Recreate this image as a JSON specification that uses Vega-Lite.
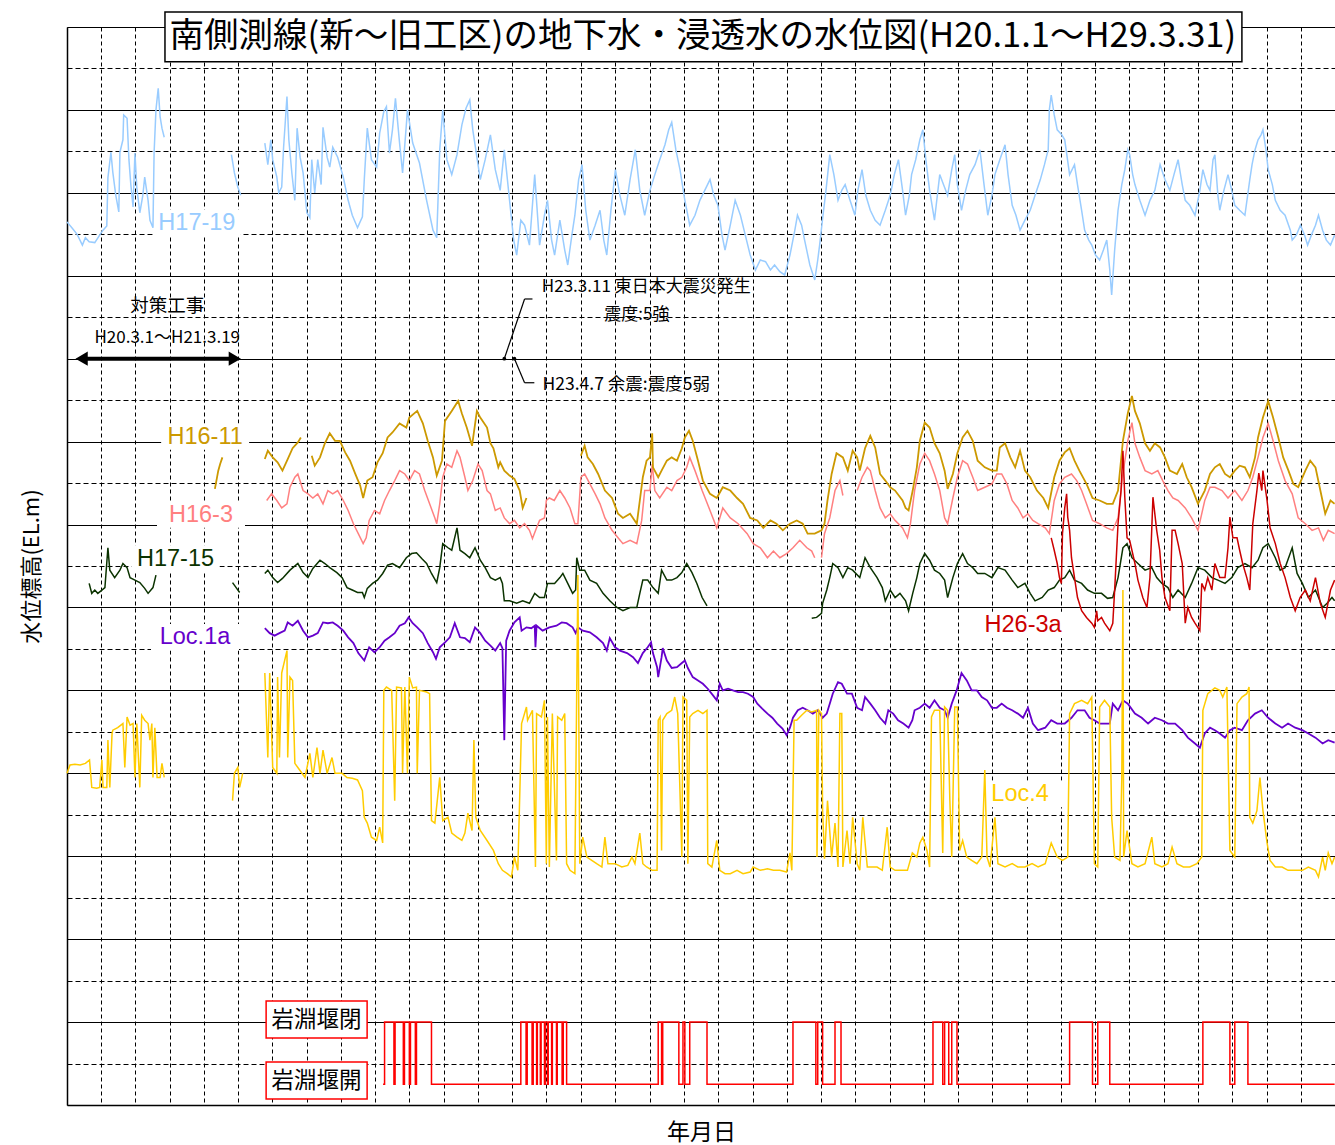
{
"$schema":"https://vega.github.io/schema/vega-lite/v6.json",
"width":1268,"height":1078,
"autosize":{"type":"none"},
"padding":{"left":67,"top":27,"right":0,"bottom":40},
"background":"white",
"config":{"view":{"stroke":null},"font":"Noto Sans CJK JP","axis":{"labels":false,"ticks":false,"domainColor":"#000","domainWidth":1.5,"gridColor":"#000","gridWidth":1,"gridOpacity":1,"titleFont":"Noto Sans CJK JP","titleFontWeight":"normal","titleColor":"#000"}},
"datasets":{
"labels":[{"s":"H17-19","d":"2008-12-12","v":10.64},{"s":"H16-11","d":"2009-01-03","v":8.06},{"s":"H16-3","d":"2008-12-23","v":7.12},{"s":"H17-15","d":"2008-10-16","v":6.59},{"s":"Loc.1a","d":"2008-12-07","v":5.64},{"s":"Loc.4","d":"2014-12-14","v":3.75},{"s":"H26-3a","d":"2014-12-22","v":5.79}],
"gatelabels":[{"t":"岩淵堰閉","d":"2009-10-27","v":1.03},{"t":"岩淵堰開","d":"2009-10-27","v":0.295}],
"h1719":[{"d":"2008-01-01","v":10.65},{"d":"2008-01-14","v":10.58},{"d":"2008-01-28","v":10.5},{"d":"2008-02-11","v":10.37},{"d":"2008-02-19","v":10.46},{"d":"2008-02-29","v":10.41},{"d":"2008-03-15","v":10.4},{"d":"2008-03-28","v":10.49},{"d":"2008-04-06","v":10.55},{"d":"2008-04-16","v":10.6},{"d":"2008-04-19","v":11.18},{"d":"2008-04-27","v":11.49},{"d":"2008-05-02","v":11.25},{"d":"2008-05-10","v":10.97},{"d":"2008-05-18","v":10.77},{"d":"2008-05-21","v":11.49},{"d":"2008-05-29","v":11.64},{"d":"2008-05-31","v":11.94},{"d":"2008-06-09","v":11.9},{"d":"2008-06-14","v":11.4},{"d":"2008-06-19","v":11.1},{"d":"2008-06-25","v":10.83},{"d":"2008-06-30","v":11.48},{"d":"2008-07-05","v":11.06},{"d":"2008-07-13","v":10.76},{"d":"2008-07-21","v":10.97},{"d":"2008-07-26","v":11.19},{"d":"2008-08-04","v":10.91},{"d":"2008-08-09","v":10.67},{"d":"2008-08-17","v":10.58},{"d":"2008-08-20","v":11.48},{"d":"2008-08-25","v":12.0},{"d":"2008-08-31","v":12.26},{"d":"2008-09-05","v":11.92},{"d":"2008-09-10","v":11.78},{"d":"2008-09-16","v":11.67},{"d":"2008-12-01","v":null},{"d":"2009-03-14","v":11.46},{"d":"2009-03-22","v":11.24},{"d":"2009-03-31","v":11.07},{"d":"2009-04-08","v":10.97},{"d":"2009-05-15","v":null},
{"d":"2009-06-11","v":11.6},{"d":"2009-06-19","v":11.34},{"d":"2009-06-27","v":11.64},{"d":"2009-07-02","v":11.4},{"d":"2009-07-13","v":11.19},{"d":"2009-07-18","v":11.0},{"d":"2009-07-26","v":11.07},{"d":"2009-07-31","v":11.55},{"d":"2009-08-09","v":12.16},{"d":"2009-08-14","v":11.64},{"d":"2009-08-22","v":11.24},{"d":"2009-08-30","v":10.91},{"d":"2009-09-05","v":11.78},{"d":"2009-09-13","v":11.43},{"d":"2009-09-21","v":11.24},{"d":"2009-10-01","v":10.76},{"d":"2009-10-09","v":10.7},{"d":"2009-10-14","v":11.4},{"d":"2009-10-22","v":11.0},{"d":"2009-10-30","v":11.4},{"d":"2009-11-08","v":11.1},{"d":"2009-11-13","v":11.79},{"d":"2009-11-24","v":11.43},{"d":"2009-12-01","v":11.31},{"d":"2009-12-09","v":11.55},{"d":"2009-12-22","v":11.43},
{"d":"2010-01-06","v":11.19},{"d":"2010-01-19","v":10.91},{"d":"2010-01-30","v":10.73},{"d":"2010-02-13","v":10.58},{"d":"2010-02-26","v":10.71},{"d":"2010-03-03","v":11.16},{"d":"2010-03-11","v":11.78},{"d":"2010-03-22","v":11.4},{"d":"2010-04-05","v":11.31},{"d":"2010-04-13","v":11.72},{"d":"2010-04-24","v":11.98},{"d":"2010-05-01","v":12.04},{"d":"2010-05-09","v":11.48},{"d":"2010-05-17","v":11.76},{"d":"2010-05-25","v":12.14},{"d":"2010-06-05","v":11.6},{"d":"2010-06-13","v":11.24},{"d":"2010-06-21","v":11.7},{"d":"2010-06-26","v":12.0},{"d":"2010-07-10","v":11.6},{"d":"2010-07-28","v":11.36},{"d":"2010-08-16","v":10.91},{"d":"2010-09-02","v":10.55},{"d":"2010-09-12","v":10.46},{"d":"2010-09-20","v":11.52},{"d":"2010-09-28","v":12.0},{"d":"2010-10-09","v":11.4},{"d":"2010-10-22","v":11.22},{"d":"2010-11-05","v":11.46},{"d":"2010-11-18","v":11.82},{"d":"2010-11-29","v":12.02},{"d":"2010-12-09","v":12.12},{"d":"2010-12-17","v":11.76},{"d":"2010-12-25","v":11.52},
{"d":"2011-01-06","v":11.16},{"d":"2011-01-19","v":11.4},{"d":"2011-02-02","v":11.7},{"d":"2011-02-15","v":11.28},{"d":"2011-02-28","v":11.03},{"d":"2011-03-11","v":11.52},{"d":"2011-03-25","v":10.91},{"d":"2011-04-05","v":10.43},{"d":"2011-04-13","v":10.25},{"d":"2011-04-24","v":10.67},{"d":"2011-05-04","v":10.61},{"d":"2011-05-17","v":10.37},{"d":"2011-05-31","v":11.22},{"d":"2011-06-13","v":10.37},{"d":"2011-06-26","v":10.73},{"d":"2011-07-04","v":10.91},{"d":"2011-07-15","v":10.43},{"d":"2011-07-23","v":10.25},{"d":"2011-08-06","v":10.67},{"d":"2011-08-19","v":10.31},{"d":"2011-08-27","v":10.13},{"d":"2011-09-07","v":10.49},{"d":"2011-09-15","v":10.73},{"d":"2011-09-25","v":11.16},{"d":"2011-10-04","v":11.34},{"d":"2011-10-14","v":10.79},{"d":"2011-10-25","v":10.43},{"d":"2011-11-08","v":10.61},{"d":"2011-11-21","v":10.79},{"d":"2011-12-01","v":10.43},{"d":"2011-12-09","v":10.25},{"d":"2011-12-20","v":10.79},
{"d":"2012-01-01","v":11.28},{"d":"2012-01-13","v":10.97},{"d":"2012-01-26","v":10.73},{"d":"2012-02-09","v":11.16},{"d":"2012-02-23","v":11.52},{"d":"2012-03-06","v":11.03},{"d":"2012-03-19","v":10.73},{"d":"2012-04-02","v":11.03},{"d":"2012-04-15","v":11.22},{"d":"2012-04-28","v":11.4},{"d":"2012-05-12","v":11.58},{"d":"2012-05-22","v":11.76},{"d":"2012-05-30","v":11.85},{"d":"2012-06-10","v":11.52},{"d":"2012-06-21","v":11.28},{"d":"2012-07-04","v":10.91},{"d":"2012-07-17","v":10.61},{"d":"2012-07-31","v":10.73},{"d":"2012-08-13","v":10.91},{"d":"2012-08-26","v":11.03},{"d":"2012-09-09","v":11.16},{"d":"2012-09-19","v":10.97},{"d":"2012-09-30","v":10.85},{"d":"2012-10-11","v":10.49},{"d":"2012-10-19","v":10.31},{"d":"2012-11-02","v":10.61},{"d":"2012-11-15","v":10.91},{"d":"2012-11-29","v":10.73},{"d":"2012-12-12","v":10.49},{"d":"2012-12-25","v":10.25},
{"d":"2013-01-08","v":10.07},{"d":"2013-01-21","v":10.19},{"d":"2013-02-04","v":10.17},{"d":"2013-02-17","v":10.07},{"d":"2013-02-28","v":10.13},{"d":"2013-03-14","v":10.05},{"d":"2013-03-27","v":10.01},{"d":"2013-04-10","v":10.25},{"d":"2013-04-23","v":10.55},{"d":"2013-04-30","v":10.73},{"d":"2013-05-11","v":10.61},{"d":"2013-05-19","v":10.43},{"d":"2013-06-02","v":10.13},{"d":"2013-06-15","v":9.95},{"d":"2013-06-23","v":10.19},{"d":"2013-06-28","v":10.37},{"d":"2013-07-07","v":10.73},{"d":"2013-07-15","v":11.03},{"d":"2013-07-25","v":11.46},{"d":"2013-08-05","v":11.22},{"d":"2013-08-16","v":10.91},{"d":"2013-08-26","v":11.03},{"d":"2013-09-04","v":11.1},{"d":"2013-09-17","v":10.91},{"d":"2013-09-30","v":10.73},{"d":"2013-10-08","v":11.03},{"d":"2013-10-19","v":11.28},{"d":"2013-10-29","v":10.97},{"d":"2013-11-10","v":10.79},{"d":"2013-11-23","v":10.67},{"d":"2013-12-06","v":10.61},{"d":"2013-12-20","v":10.79},
{"d":"2014-01-02","v":10.97},{"d":"2014-01-13","v":11.22},{"d":"2014-01-24","v":11.4},{"d":"2014-02-04","v":11.03},{"d":"2014-02-12","v":10.73},{"d":"2014-02-22","v":10.97},{"d":"2014-02-28","v":11.22},{"d":"2014-03-11","v":11.4},{"d":"2014-03-22","v":11.64},{"d":"2014-03-30","v":11.76},{"d":"2014-04-07","v":11.4},{"d":"2014-04-17","v":11.03},{"d":"2014-04-30","v":10.67},{"d":"2014-05-14","v":11.22},{"d":"2014-05-24","v":11.1},{"d":"2014-06-04","v":10.97},{"d":"2014-06-15","v":11.28},{"d":"2014-06-23","v":11.46},{"d":"2014-06-30","v":11.1},{"d":"2014-07-11","v":10.79},{"d":"2014-07-22","v":11.03},{"d":"2014-08-02","v":11.22},{"d":"2014-08-16","v":11.34},{"d":"2014-08-29","v":11.52},{"d":"2014-09-09","v":11.1},{"d":"2014-09-19","v":10.73},{"d":"2014-09-30","v":10.97},{"d":"2014-10-08","v":11.22},{"d":"2014-10-21","v":11.4},{"d":"2014-11-04","v":11.58},{"d":"2014-11-12","v":11.22},{"d":"2014-11-23","v":10.85},{"d":"2014-12-03","v":10.73},{"d":"2014-12-14","v":10.55},{"d":"2014-12-27","v":10.67},
{"d":"2015-01-10","v":10.79},{"d":"2015-01-23","v":10.97},{"d":"2015-02-06","v":11.16},{"d":"2015-02-17","v":11.34},{"d":"2015-02-27","v":11.52},{"d":"2015-03-02","v":12.0},{"d":"2015-03-07","v":12.18},{"d":"2015-03-15","v":11.94},{"d":"2015-03-23","v":11.76},{"d":"2015-04-04","v":11.7},{"d":"2015-04-12","v":11.64},{"d":"2015-04-25","v":11.22},{"d":"2015-05-08","v":11.34},{"d":"2015-05-16","v":11.1},{"d":"2015-05-27","v":10.79},{"d":"2015-06-04","v":10.55},{"d":"2015-06-15","v":10.43},{"d":"2015-06-23","v":10.37},{"d":"2015-07-03","v":10.25},{"d":"2015-07-14","v":10.19},{"d":"2015-07-24","v":10.31},{"d":"2015-08-02","v":10.43},{"d":"2015-08-10","v":10.07},{"d":"2015-08-15","v":9.77},{"d":"2015-08-23","v":10.31},{"d":"2015-09-01","v":10.79},{"d":"2015-09-11","v":11.1},{"d":"2015-09-19","v":11.28},{"d":"2015-09-27","v":11.52},{"d":"2015-10-02","v":11.46},{"d":"2015-10-10","v":11.22},{"d":"2015-10-16","v":11.1},{"d":"2015-10-29","v":10.91},{"d":"2015-11-12","v":10.73},{"d":"2015-11-25","v":10.91},{"d":"2015-12-08","v":11.03},{"d":"2015-12-22","v":11.34},
{"d":"2016-01-04","v":11.16},{"d":"2016-01-17","v":11.03},{"d":"2016-01-28","v":11.22},{"d":"2016-02-08","v":11.4},{"d":"2016-02-19","v":11.1},{"d":"2016-02-27","v":10.91},{"d":"2016-03-10","v":10.85},{"d":"2016-03-24","v":10.73},{"d":"2016-04-06","v":11.03},{"d":"2016-04-14","v":11.28},{"d":"2016-04-25","v":11.1},{"d":"2016-05-03","v":11.03},{"d":"2016-05-11","v":11.4},{"d":"2016-05-16","v":11.46},{"d":"2016-05-24","v":10.97},{"d":"2016-05-29","v":10.79},{"d":"2016-06-09","v":11.03},{"d":"2016-06-20","v":11.22},{"d":"2016-06-30","v":11.03},{"d":"2016-07-08","v":10.85},{"d":"2016-07-21","v":10.79},{"d":"2016-08-04","v":10.73},{"d":"2016-08-17","v":11.16},{"d":"2016-08-23","v":11.34},{"d":"2016-08-31","v":11.52},{"d":"2016-09-08","v":11.64},{"d":"2016-09-16","v":11.7},{"d":"2016-09-21","v":11.76},{"d":"2016-09-29","v":11.52},{"d":"2016-10-05","v":11.28},{"d":"2016-10-16","v":11.1},{"d":"2016-10-24","v":10.91},{"d":"2016-11-06","v":10.79},{"d":"2016-11-19","v":10.73},{"d":"2016-12-03","v":10.55},{"d":"2016-12-08","v":10.43},{"d":"2016-12-19","v":10.49},{"d":"2016-12-30","v":10.61},{"d":"2017-01-10","v":10.49},{"d":"2017-01-18","v":10.37},{"d":"2017-01-28","v":10.49},{"d":"2017-02-08","v":10.61},{"d":"2017-02-16","v":10.73},{"d":"2017-02-27","v":10.55},{"d":"2017-03-09","v":10.43},{"d":"2017-03-20","v":10.37},{"d":"2017-03-31","v":10.49}],
"h1611":[{"d":"2009-01-29","v":7.43},{"d":"2009-02-07","v":7.65},{"d":"2009-02-12","v":7.73},{"d":"2009-02-18","v":7.81},{"d":"2009-04-01","v":null},{"d":"2009-06-11","v":7.79},{"d":"2009-06-19","v":7.89},{"d":"2009-07-02","v":7.81},{"d":"2009-07-15","v":7.75},{"d":"2009-07-28","v":7.65},{"d":"2009-08-11","v":7.79},{"d":"2009-08-24","v":7.92},{"d":"2009-09-07","v":7.99},{"d":"2009-09-15","v":8.05},{"d":"2009-09-25","v":null},{"d":"2009-10-14","v":7.83},{"d":"2009-10-22","v":7.71},{"d":"2009-11-05","v":7.81},{"d":"2009-11-18","v":7.98},{"d":"2009-12-01","v":8.1},{"d":"2009-12-15","v":8.01},{"d":"2009-12-28","v":8.01},{"d":"2010-01-11","v":7.87},{"d":"2010-01-24","v":7.77},{"d":"2010-02-07","v":7.61},{"d":"2010-02-20","v":7.47},{"d":"2010-02-28","v":7.32},{"d":"2010-03-11","v":7.53},{"d":"2010-03-25","v":7.57},{"d":"2010-04-07","v":7.75},{"d":"2010-04-21","v":7.86},{"d":"2010-05-04","v":8.05},{"d":"2010-05-17","v":8.11},{"d":"2010-06-05","v":8.22},{"d":"2010-06-23","v":8.17},{"d":"2010-07-01","v":8.29},{"d":"2010-07-22","v":8.37},{"d":"2010-08-06","v":8.22},{"d":"2010-08-19","v":8.01},{"d":"2010-09-02","v":7.81},{"d":"2010-09-12","v":7.59},{"d":"2010-09-26","v":7.77},{"d":"2010-10-04","v":8.25},{"d":"2010-10-22","v":8.37},{"d":"2010-11-08","v":8.49},{"d":"2010-11-18","v":8.34},{"d":"2010-12-01","v":8.17},{"d":"2010-12-15","v":7.95},{"d":"2010-12-28","v":8.37},{"d":"2011-01-06","v":8.29},{"d":"2011-01-24","v":8.17},{"d":"2011-02-02","v":7.98},{"d":"2011-02-10","v":7.92},{"d":"2011-02-23","v":7.69},{"d":"2011-02-28","v":7.75},{"d":"2011-03-11","v":7.65},{"d":"2011-03-25","v":7.59},{"d":"2011-04-07","v":7.55},{"d":"2011-04-21","v":7.41},{"d":"2011-04-29","v":7.2},{"d":"2011-05-09","v":7.32},{"d":"2011-06-15","v":null},{"d":"2011-10-01","v":7.83},{"d":"2011-10-11","v":7.95},{"d":"2011-10-19","v":7.81},{"d":"2011-11-02","v":7.73},{"d":"2011-11-16","v":7.61},{"d":"2011-12-04","v":7.41},{"d":"2011-12-23","v":7.32},{"d":"2012-01-08","v":7.13},{"d":"2012-01-21","v":7.08},{"d":"2012-02-09","v":7.13},{"d":"2012-02-27","v":7.01},{"d":"2012-03-06","v":7.29},{"d":"2012-03-14","v":7.57},{"d":"2012-03-24","v":7.77},{"d":"2012-04-02","v":7.81},{"d":"2012-04-08","v":8.1},{"d":"2012-04-10","v":7.69},{"d":"2012-04-24","v":7.57},{"d":"2012-05-03","v":7.65},{"d":"2012-05-17","v":7.77},{"d":"2012-05-30","v":7.81},{"d":"2012-06-13","v":7.77},{"d":"2012-06-26","v":7.92},{"d":"2012-07-04","v":8.05},{"d":"2012-07-15","v":8.13},{"d":"2012-07-25","v":8.01},{"d":"2012-08-08","v":7.77},{"d":"2012-08-21","v":7.53},{"d":"2012-09-09","v":7.37},{"d":"2012-09-27","v":7.32},{"d":"2012-10-13","v":7.45},{"d":"2012-11-02","v":7.41},{"d":"2012-11-20","v":7.32},{"d":"2012-12-06","v":7.25},{"d":"2012-12-25","v":7.08},{"d":"2013-01-13","v":7.05},{"d":"2013-01-29","v":6.96},{"d":"2013-02-17","v":7.05},{"d":"2013-03-05","v":7.01},{"d":"2013-03-22","v":6.93},{"d":"2013-04-10","v":7.01},{"d":"2013-04-28","v":7.05},{"d":"2013-05-14","v":7.01},{"d":"2013-05-27","v":6.89},{"d":"2013-06-15","v":6.89},{"d":"2013-07-03","v":6.93},{"d":"2013-07-11","v":7.01},{"d":"2013-07-19","v":7.29},{"d":"2013-07-30","v":7.61},{"d":"2013-08-12","v":7.86},{"d":"2013-08-29","v":7.81},{"d":"2013-09-11","v":7.65},{"d":"2013-09-24","v":7.89},{"d":"2013-10-06","v":7.81},{"d":"2013-10-13","v":7.65},{"d":"2013-10-27","v":7.92},{"d":"2013-11-10","v":8.07},{"d":"2013-11-23","v":7.93},{"d":"2013-12-06","v":7.61},{"d":"2013-12-20","v":7.53},{"d":"2014-01-02","v":7.45},{"d":"2014-01-15","v":7.41},{"d":"2014-02-04","v":7.29},{"d":"2014-02-12","v":7.2},{"d":"2014-02-20","v":7.17},{"d":"2014-03-03","v":7.41},{"d":"2014-03-14","v":7.69},{"d":"2014-03-22","v":8.01},{"d":"2014-04-04","v":8.23},{"d":"2014-04-17","v":8.17},{"d":"2014-04-30","v":7.98},{"d":"2014-05-14","v":7.86},{"d":"2014-05-27","v":7.65},{"d":"2014-06-04","v":7.43},{"d":"2014-06-18","v":7.61},{"d":"2014-06-30","v":7.86},{"d":"2014-07-14","v":8.05},{"d":"2014-07-27","v":8.13},{"d":"2014-08-10","v":8.01},{"d":"2014-08-23","v":7.77},{"d":"2014-09-11","v":7.69},{"d":"2014-09-30","v":7.65},{"d":"2014-10-13","v":7.65},{"d":"2014-10-21","v":7.93},{"d":"2014-11-04","v":7.98},{"d":"2014-11-18","v":7.81},{"d":"2014-12-01","v":7.69},{"d":"2014-12-14","v":7.89},{"d":"2014-12-27","v":7.65},{"d":"2015-01-10","v":7.57},{"d":"2015-01-28","v":7.41},{"d":"2015-02-14","v":7.32},{"d":"2015-02-27","v":7.2},{"d":"2015-03-15","v":7.57},{"d":"2015-03-29","v":7.77},{"d":"2015-04-12","v":7.87},{"d":"2015-04-25","v":7.92},{"d":"2015-05-08","v":7.77},{"d":"2015-05-21","v":7.65},{"d":"2015-06-09","v":7.49},{"d":"2015-06-25","v":7.32},{"d":"2015-07-14","v":7.29},{"d":"2015-08-02","v":7.25},{"d":"2015-08-18","v":7.25},{"d":"2015-09-01","v":7.41},{"d":"2015-09-14","v":8.01},{"d":"2015-09-27","v":8.34},{"d":"2015-10-08","v":8.55},{"d":"2015-10-16","v":8.37},{"d":"2015-10-29","v":8.22},{"d":"2015-11-12","v":7.98},{"d":"2015-11-25","v":7.89},{"d":"2015-12-08","v":7.98},{"d":"2015-12-22","v":7.93},{"d":"2016-01-04","v":7.81},{"d":"2016-01-17","v":7.65},{"d":"2016-02-05","v":7.61},{"d":"2016-02-19","v":7.73},{"d":"2016-03-02","v":7.57},{"d":"2016-03-15","v":7.45},{"d":"2016-04-01","v":7.25},{"d":"2016-04-19","v":7.41},{"d":"2016-05-03","v":7.61},{"d":"2016-05-16","v":7.69},{"d":"2016-05-29","v":7.73},{"d":"2016-06-12","v":7.61},{"d":"2016-06-25","v":7.57},{"d":"2016-07-08","v":7.65},{"d":"2016-07-21","v":7.71},{"d":"2016-08-04","v":7.69},{"d":"2016-08-17","v":7.57},{"d":"2016-08-31","v":7.81},{"d":"2016-09-08","v":8.05},{"d":"2016-09-21","v":8.29},{"d":"2016-10-05","v":8.49},{"d":"2016-10-18","v":8.29},{"d":"2016-11-01","v":8.05},{"d":"2016-11-14","v":7.81},{"d":"2016-11-28","v":7.65},{"d":"2016-12-11","v":7.49},{"d":"2016-12-24","v":7.45},{"d":"2017-01-12","v":7.65},{"d":"2017-01-25","v":7.77},{"d":"2017-02-08","v":7.69},{"d":"2017-02-21","v":7.41},{"d":"2017-03-06","v":7.13},{"d":"2017-03-20","v":7.29},{"d":"2017-03-31","v":7.25}],
"h163":[{"d":"2009-06-16","v":7.29},{"d":"2009-06-29","v":7.37},{"d":"2009-07-13","v":7.29},{"d":"2009-07-26","v":7.2},{"d":"2009-08-09","v":7.25},{"d":"2009-08-17","v":7.45},{"d":"2009-08-30","v":7.57},{"d":"2009-09-07","v":7.61},{"d":"2009-09-21","v":7.41},{"d":"2009-10-04","v":7.37},{"d":"2009-10-17","v":7.32},{"d":"2009-10-30","v":7.37},{"d":"2009-11-13","v":7.25},{"d":"2009-11-26","v":7.41},{"d":"2009-12-09","v":7.37},{"d":"2009-12-22","v":7.41},{"d":"2010-01-06","v":7.29},{"d":"2010-01-19","v":7.17},{"d":"2010-02-02","v":7.01},{"d":"2010-02-15","v":6.89},{"d":"2010-02-28","v":6.77},{"d":"2010-03-08","v":6.84},{"d":"2010-03-16","v":7.05},{"d":"2010-03-30","v":7.17},{"d":"2010-04-13","v":7.13},{"d":"2010-04-26","v":7.29},{"d":"2010-05-09","v":7.41},{"d":"2010-05-23","v":7.53},{"d":"2010-06-05","v":7.65},{"d":"2010-06-19","v":7.61},{"d":"2010-07-01","v":7.53},{"d":"2010-07-15","v":7.65},{"d":"2010-07-28","v":7.61},{"d":"2010-08-11","v":7.41},{"d":"2010-08-24","v":7.25},{"d":"2010-09-07","v":7.08},{"d":"2010-09-12","v":7.01},{"d":"2010-09-20","v":7.25},{"d":"2010-09-28","v":7.57},{"d":"2010-10-09","v":7.73},{"d":"2010-10-22","v":7.69},{"d":"2010-11-05","v":7.89},{"d":"2010-11-13","v":7.81},{"d":"2010-11-26","v":7.57},{"d":"2010-12-04","v":7.41},{"d":"2010-12-17","v":7.53},{"d":"2010-12-31","v":7.73},{"d":"2011-01-11","v":7.65},{"d":"2011-01-24","v":7.41},{"d":"2011-02-02","v":7.37},{"d":"2011-02-15","v":7.17},{"d":"2011-02-28","v":7.2},{"d":"2011-03-11","v":7.08},{"d":"2011-03-25","v":7.01},{"d":"2011-04-07","v":7.05},{"d":"2011-04-21","v":6.96},{"d":"2011-05-04","v":7.01},{"d":"2011-05-17","v":6.93},{"d":"2011-05-25","v":6.83},{"d":"2011-06-05","v":6.96},{"d":"2011-06-13","v":7.05},{"d":"2011-06-26","v":7.08},{"d":"2011-07-01","v":7.29},{"d":"2011-07-09","v":7.32},{"d":"2011-07-22","v":7.29},{"d":"2011-08-06","v":7.41},{"d":"2011-08-19","v":7.32},{"d":"2011-09-02","v":7.2},{"d":"2011-09-15","v":7.01},{"d":"2011-09-23","v":7.01},{"d":"2011-10-01","v":7.57},{"d":"2011-10-11","v":7.61},{"d":"2011-10-25","v":7.49},{"d":"2011-11-08","v":7.37},{"d":"2011-11-21","v":7.25},{"d":"2011-12-04","v":7.08},{"d":"2011-12-23","v":6.93},{"d":"2012-01-08","v":6.84},{"d":"2012-01-21","v":6.77},{"d":"2012-02-09","v":6.81},{"d":"2012-02-27","v":6.77},{"d":"2012-03-11","v":7.05},{"d":"2012-03-19","v":7.41},{"d":"2012-04-02","v":7.41},{"d":"2012-04-08","v":7.73},{"d":"2012-04-15","v":7.41},{"d":"2012-04-28","v":7.32},{"d":"2012-05-17","v":7.45},{"d":"2012-05-30","v":7.41},{"d":"2012-06-13","v":7.53},{"d":"2012-06-26","v":7.57},{"d":"2012-07-09","v":7.69},{"d":"2012-07-17","v":7.81},{"d":"2012-07-31","v":7.65},{"d":"2012-08-19","v":7.41},{"d":"2012-09-09","v":7.17},{"d":"2012-09-27","v":6.96},{"d":"2012-10-13","v":7.2},{"d":"2012-11-02","v":7.08},{"d":"2012-11-23","v":7.01},{"d":"2012-12-17","v":6.89},{"d":"2013-01-02","v":6.77},{"d":"2013-01-21","v":6.72},{"d":"2013-02-09","v":6.6},{"d":"2013-02-25","v":6.68},{"d":"2013-03-14","v":6.6},{"d":"2013-04-01","v":6.65},{"d":"2013-04-18","v":6.72},{"d":"2013-05-06","v":6.81},{"d":"2013-05-25","v":6.72},{"d":"2013-06-07","v":6.68},{"d":"2013-06-15","v":6.6},{"d":"2013-06-25","v":null},{"d":"2013-07-03","v":6.6},{"d":"2013-07-11","v":6.89},{"d":"2013-07-25","v":7.08},{"d":"2013-08-08","v":7.41},{"d":"2013-08-21","v":7.53},{"d":"2013-08-29","v":7.35},{"d":"2013-09-08","v":null},{"d":"2013-10-06","v":7.41},{"d":"2013-10-19","v":7.57},{"d":"2013-11-02","v":7.69},{"d":"2013-11-10","v":7.65},{"d":"2013-11-23","v":7.41},{"d":"2013-12-06","v":7.2},{"d":"2013-12-20","v":7.08},{"d":"2014-01-02","v":7.13},{"d":"2014-01-15","v":7.05},{"d":"2014-02-04","v":6.96},{"d":"2014-02-17","v":6.84},{"d":"2014-02-25","v":7.01},{"d":"2014-03-08","v":7.41},{"d":"2014-03-22","v":7.73},{"d":"2014-04-04","v":7.86},{"d":"2014-04-17","v":7.77},{"d":"2014-04-30","v":7.61},{"d":"2014-05-14","v":7.41},{"d":"2014-05-27","v":7.08},{"d":"2014-06-04","v":7.01},{"d":"2014-06-18","v":7.32},{"d":"2014-06-30","v":7.57},{"d":"2014-07-14","v":7.77},{"d":"2014-07-27","v":7.73},{"d":"2014-08-10","v":7.57},{"d":"2014-08-23","v":7.41},{"d":"2014-09-11","v":7.45},{"d":"2014-09-30","v":7.49},{"d":"2014-10-13","v":7.61},{"d":"2014-10-26","v":7.61},{"d":"2014-11-09","v":7.49},{"d":"2014-11-23","v":7.29},{"d":"2014-12-08","v":7.2},{"d":"2014-12-22","v":7.08},{"d":"2015-01-04","v":7.13},{"d":"2015-01-17","v":7.05},{"d":"2015-01-31","v":7.01},{"d":"2015-02-19","v":6.96},{"d":"2015-03-02","v":6.89},{"d":"2015-03-15","v":7.29},{"d":"2015-03-29","v":7.49},{"d":"2015-04-12","v":7.57},{"d":"2015-04-30","v":7.61},{"d":"2015-05-14","v":7.53},{"d":"2015-05-27","v":7.41},{"d":"2015-06-09","v":7.25},{"d":"2015-06-25","v":7.05},{"d":"2015-07-14","v":7.01},{"d":"2015-08-02","v":6.96},{"d":"2015-08-18","v":6.93},{"d":"2015-09-01","v":7.08},{"d":"2015-09-14","v":7.61},{"d":"2015-09-27","v":8.01},{"d":"2015-10-08","v":8.23},{"d":"2015-10-16","v":7.98},{"d":"2015-10-29","v":7.81},{"d":"2015-11-12","v":7.65},{"d":"2015-11-30","v":7.61},{"d":"2015-12-16","v":7.65},{"d":"2015-12-29","v":7.53},{"d":"2016-01-12","v":7.41},{"d":"2016-01-25","v":7.32},{"d":"2016-02-08","v":7.29},{"d":"2016-02-27","v":7.2},{"d":"2016-03-15","v":7.08},{"d":"2016-04-01","v":6.93},{"d":"2016-04-19","v":7.29},{"d":"2016-05-03","v":7.45},{"d":"2016-05-16","v":7.45},{"d":"2016-06-04","v":7.41},{"d":"2016-06-20","v":7.32},{"d":"2016-07-08","v":7.41},{"d":"2016-07-27","v":7.29},{"d":"2016-08-12","v":7.41},{"d":"2016-08-25","v":7.57},{"d":"2016-09-08","v":7.81},{"d":"2016-09-21","v":8.05},{"d":"2016-10-05","v":8.22},{"d":"2016-10-18","v":8.01},{"d":"2016-11-01","v":7.77},{"d":"2016-11-19","v":7.53},{"d":"2016-12-08","v":7.37},{"d":"2016-12-24","v":7.08},{"d":"2017-01-12","v":7.01},{"d":"2017-01-30","v":6.93},{"d":"2017-02-16","v":6.96},{"d":"2017-03-01","v":6.81},{"d":"2017-03-14","v":6.93},{"d":"2017-03-31","v":6.89}],
"h1715":[{"d":"2008-02-29","v":6.29},{"d":"2008-03-07","v":6.17},{"d":"2008-03-15","v":6.21},{"d":"2008-03-23","v":6.17},{"d":"2008-04-03","v":6.21},{"d":"2008-04-11","v":6.24},{"d":"2008-04-19","v":6.72},{"d":"2008-04-24","v":6.45},{"d":"2008-05-07","v":6.36},{"d":"2008-05-21","v":6.45},{"d":"2008-05-29","v":6.53},{"d":"2008-06-09","v":6.48},{"d":"2008-06-17","v":6.36},{"d":"2008-06-30","v":6.33},{"d":"2008-07-13","v":6.3},{"d":"2008-07-26","v":6.23},{"d":"2008-08-04","v":6.17},{"d":"2008-08-17","v":6.24},{"d":"2008-08-25","v":6.39},{"d":"2008-10-01","v":null},{"d":"2009-03-17","v":6.3},{"d":"2009-03-28","v":6.23},{"d":"2009-04-05","v":6.18},{"d":"2009-05-15","v":null},{"d":"2009-06-11","v":6.41},{"d":"2009-06-19","v":6.45},{"d":"2009-07-02","v":6.36},{"d":"2009-07-15","v":6.3},{"d":"2009-07-28","v":6.35},{"d":"2009-08-17","v":6.45},{"d":"2009-09-07","v":6.53},{"d":"2009-09-21","v":6.42},{"d":"2009-10-04","v":6.36},{"d":"2009-10-17","v":6.47},{"d":"2009-11-05","v":6.57},{"d":"2009-11-18","v":6.53},{"d":"2009-12-01","v":6.48},{"d":"2009-12-20","v":6.42},{"d":"2010-01-03","v":6.36},{"d":"2010-01-16","v":6.24},{"d":"2010-01-30","v":6.21},{"d":"2010-02-13","v":6.18},{"d":"2010-02-26","v":6.18},{"d":"2010-03-03","v":6.12},{"d":"2010-03-11","v":6.23},{"d":"2010-03-25","v":6.29},{"d":"2010-04-07","v":6.33},{"d":"2010-04-21","v":6.41},{"d":"2010-05-04","v":6.51},{"d":"2010-05-17","v":6.53},{"d":"2010-06-05","v":6.48},{"d":"2010-06-23","v":6.6},{"d":"2010-07-07","v":6.65},{"d":"2010-07-20","v":6.66},{"d":"2010-08-03","v":6.59},{"d":"2010-08-16","v":6.53},{"d":"2010-08-29","v":6.41},{"d":"2010-09-12","v":6.3},{"d":"2010-09-20","v":6.48},{"d":"2010-09-28","v":6.77},{"d":"2010-10-12","v":6.72},{"d":"2010-10-22","v":6.69},{"d":"2010-11-05","v":6.96},{"d":"2010-11-13","v":6.69},{"d":"2010-11-26","v":6.65},{"d":"2010-12-09","v":6.6},{"d":"2010-12-23","v":6.72},{"d":"2011-01-06","v":6.57},{"d":"2011-01-19","v":6.48},{"d":"2011-02-02","v":6.36},{"d":"2011-02-15","v":6.33},{"d":"2011-02-28","v":6.36},{"d":"2011-03-06","v":6.29},{"d":"2011-03-11","v":6.08},{"d":"2011-03-25","v":6.08},{"d":"2011-04-13","v":6.05},{"d":"2011-04-29","v":6.08},{"d":"2011-05-17","v":6.05},{"d":"2011-05-31","v":6.17},{"d":"2011-06-13","v":6.12},{"d":"2011-06-26","v":6.12},{"d":"2011-07-04","v":6.29},{"d":"2011-07-23","v":6.29},{"d":"2011-08-06","v":6.36},{"d":"2011-08-14","v":6.41},{"d":"2011-08-27","v":6.29},{"d":"2011-09-09","v":6.17},{"d":"2011-09-17","v":6.21},{"d":"2011-09-20","v":6.6},{"d":"2011-09-28","v":6.45},{"d":"2011-10-11","v":6.45},{"d":"2011-10-25","v":6.33},{"d":"2011-11-12","v":6.29},{"d":"2011-11-29","v":6.17},{"d":"2011-12-17","v":6.08},{"d":"2012-01-05","v":6.0},{"d":"2012-01-21","v":5.96},{"d":"2012-02-09","v":6.0},{"d":"2012-02-27","v":6.0},{"d":"2012-03-06","v":6.17},{"d":"2012-03-14","v":6.33},{"d":"2012-03-27","v":6.33},{"d":"2012-04-10","v":6.24},{"d":"2012-04-24","v":6.17},{"d":"2012-05-03","v":6.45},{"d":"2012-05-17","v":6.33},{"d":"2012-05-30","v":6.33},{"d":"2012-06-13","v":6.36},{"d":"2012-06-26","v":6.42},{"d":"2012-07-09","v":6.53},{"d":"2012-07-23","v":6.42},{"d":"2012-08-05","v":6.29},{"d":"2012-08-19","v":6.12},{"d":"2012-09-01","v":6.02},{"d":"2012-11-01","v":null},{"d":"2013-06-07","v":5.87},{"d":"2013-06-20","v":5.88},{"d":"2013-07-03","v":5.93},{"d":"2013-07-06","v":6.05},{"d":"2013-07-17","v":6.21},{"d":"2013-07-25","v":6.36},{"d":"2013-08-02","v":6.53},{"d":"2013-08-16","v":6.48},{"d":"2013-08-29","v":6.36},{"d":"2013-09-11","v":6.48},{"d":"2013-09-24","v":6.45},{"d":"2013-10-13","v":6.36},{"d":"2013-10-27","v":6.6},{"d":"2013-11-10","v":6.48},{"d":"2013-11-28","v":6.36},{"d":"2013-12-12","v":6.24},{"d":"2013-12-20","v":6.08},{"d":"2014-01-02","v":6.21},{"d":"2014-01-15","v":6.12},{"d":"2014-01-28","v":6.17},{"d":"2014-02-12","v":6.08},{"d":"2014-02-20","v":5.96},{"d":"2014-03-03","v":6.17},{"d":"2014-03-14","v":6.36},{"d":"2014-03-22","v":6.53},{"d":"2014-04-04","v":6.65},{"d":"2014-04-17","v":6.57},{"d":"2014-04-30","v":6.45},{"d":"2014-05-14","v":6.41},{"d":"2014-05-27","v":6.33},{"d":"2014-06-04","v":6.12},{"d":"2014-06-18","v":6.36},{"d":"2014-06-30","v":6.53},{"d":"2014-07-14","v":6.65},{"d":"2014-07-27","v":6.53},{"d":"2014-08-10","v":6.48},{"d":"2014-08-23","v":6.41},{"d":"2014-09-11","v":6.41},{"d":"2014-09-30","v":6.36},{"d":"2014-10-16","v":6.48},{"d":"2014-11-04","v":6.45},{"d":"2014-11-23","v":6.33},{"d":"2014-12-08","v":6.24},{"d":"2014-12-27","v":6.29},{"d":"2015-01-10","v":6.17},{"d":"2015-01-23","v":6.08},{"d":"2015-02-11","v":6.12},{"d":"2015-02-27","v":6.21},{"d":"2015-03-15","v":6.24},{"d":"2015-03-29","v":6.33},{"d":"2015-04-12","v":6.36},{"d":"2015-04-25","v":6.45},{"d":"2015-05-08","v":6.33},{"d":"2015-05-27","v":6.29},{"d":"2015-06-12","v":6.21},{"d":"2015-06-30","v":6.17},{"d":"2015-07-19","v":6.17},{"d":"2015-08-04","v":6.11},{"d":"2015-08-18","v":6.12},{"d":"2015-09-01","v":6.36},{"d":"2015-09-14","v":6.72},{"d":"2015-09-25","v":6.77},{"d":"2015-10-08","v":6.6},{"d":"2015-10-24","v":6.53},{"d":"2015-11-12","v":6.45},{"d":"2015-11-30","v":6.48},{"d":"2015-12-13","v":6.36},{"d":"2015-12-27","v":6.29},{"d":"2016-01-12","v":6.24},{"d":"2016-01-25","v":6.12},{"d":"2016-02-08","v":6.21},{"d":"2016-02-27","v":6.12},{"d":"2016-03-15","v":6.29},{"d":"2016-04-01","v":6.48},{"d":"2016-04-19","v":6.45},{"d":"2016-05-08","v":6.36},{"d":"2016-05-24","v":6.33},{"d":"2016-06-12","v":6.29},{"d":"2016-06-30","v":6.36},{"d":"2016-07-16","v":6.48},{"d":"2016-08-04","v":6.53},{"d":"2016-08-23","v":6.48},{"d":"2016-09-08","v":6.57},{"d":"2016-09-21","v":6.72},{"d":"2016-10-05","v":6.77},{"d":"2016-10-24","v":6.6},{"d":"2016-11-06","v":6.45},{"d":"2016-11-19","v":6.48},{"d":"2016-12-08","v":6.72},{"d":"2016-12-21","v":6.41},{"d":"2017-01-04","v":6.29},{"d":"2017-01-20","v":6.12},{"d":"2017-02-08","v":6.21},{"d":"2017-02-27","v":6.0},{"d":"2017-03-11","v":6.05},{"d":"2017-03-24","v":6.12},{"d":"2017-03-31","v":6.08}],
"h263a":[{"d":"2015-03-07","v":6.84},{"d":"2015-03-15","v":6.69},{"d":"2015-03-23","v":6.53},{"d":"2015-03-29","v":6.36},{"d":"2015-04-03","v":6.29},{"d":"2015-04-06","v":6.89},{"d":"2015-04-12","v":7.2},{"d":"2015-04-17","v":7.37},{"d":"2015-04-20","v":7.09},{"d":"2015-04-25","v":6.93},{"d":"2015-04-30","v":6.6},{"d":"2015-05-08","v":6.36},{"d":"2015-05-16","v":6.12},{"d":"2015-05-27","v":5.96},{"d":"2015-06-09","v":5.88},{"d":"2015-06-23","v":5.81},{"d":"2015-06-30","v":5.76},{"d":"2015-07-06","v":5.96},{"d":"2015-07-09","v":5.84},{"d":"2015-07-19","v":5.88},{"d":"2015-07-27","v":5.81},{"d":"2015-08-10","v":5.72},{"d":"2015-08-18","v":5.81},{"d":"2015-08-23","v":6.21},{"d":"2015-09-01","v":7.01},{"d":"2015-09-09","v":7.41},{"d":"2015-09-14","v":7.89},{"d":"2015-09-19","v":7.33},{"d":"2015-09-25","v":6.84},{"d":"2015-10-02","v":6.81},{"d":"2015-10-16","v":6.53},{"d":"2015-10-24","v":6.33},{"d":"2015-11-06","v":6.12},{"d":"2015-11-17","v":6.0},{"d":"2015-11-25","v":6.36},{"d":"2015-12-03","v":7.33},{"d":"2015-12-13","v":6.93},{"d":"2015-12-21","v":6.69},{"d":"2015-12-27","v":6.36},{"d":"2016-01-04","v":6.12},{"d":"2016-01-17","v":5.96},{"d":"2016-01-23","v":6.93},{"d":"2016-01-31","v":6.93},{"d":"2016-02-08","v":6.77},{"d":"2016-02-19","v":6.53},{"d":"2016-02-27","v":5.81},{"d":"2016-03-05","v":6.0},{"d":"2016-03-15","v":5.88},{"d":"2016-03-24","v":5.81},{"d":"2016-04-06","v":5.72},{"d":"2016-04-11","v":6.29},{"d":"2016-04-19","v":6.21},{"d":"2016-04-27","v":6.36},{"d":"2016-05-08","v":6.21},{"d":"2016-05-16","v":6.53},{"d":"2016-05-29","v":6.36},{"d":"2016-06-12","v":6.36},{"d":"2016-06-20","v":6.72},{"d":"2016-06-25","v":7.09},{"d":"2016-07-03","v":6.84},{"d":"2016-07-14","v":6.84},{"d":"2016-07-21","v":6.69},{"d":"2016-07-29","v":6.53},{"d":"2016-08-09","v":6.36},{"d":"2016-08-17","v":6.21},{"d":"2016-08-25","v":7.01},{"d":"2016-09-05","v":7.41},{"d":"2016-09-10","v":7.62},{"d":"2016-09-18","v":7.41},{"d":"2016-09-21","v":7.65},{"d":"2016-10-02","v":7.29},{"d":"2016-10-10","v":6.96},{"d":"2016-10-24","v":6.77},{"d":"2016-11-06","v":6.53},{"d":"2016-11-19","v":6.36},{"d":"2016-12-03","v":6.12},{"d":"2016-12-16","v":5.96},{"d":"2016-12-29","v":6.12},{"d":"2017-01-12","v":6.21},{"d":"2017-01-25","v":6.08},{"d":"2017-02-08","v":6.36},{"d":"2017-02-21","v":6.05},{"d":"2017-03-06","v":5.88},{"d":"2017-03-20","v":6.21},{"d":"2017-03-31","v":6.33}],
"loc1a":[{"d":"2009-06-11","v":5.75},{"d":"2009-06-24","v":5.69},{"d":"2009-07-07","v":5.66},{"d":"2009-07-20","v":5.69},{"d":"2009-08-03","v":5.72},{"d":"2009-08-11","v":5.82},{"d":"2009-08-24","v":5.78},{"d":"2009-09-07","v":5.84},{"d":"2009-09-21","v":5.72},{"d":"2009-10-04","v":5.64},{"d":"2009-10-17","v":5.66},{"d":"2009-10-30","v":5.69},{"d":"2009-11-13","v":5.82},{"d":"2009-11-26","v":5.81},{"d":"2009-12-09","v":5.82},{"d":"2009-12-22","v":5.78},{"d":"2010-01-06","v":5.72},{"d":"2010-01-19","v":5.64},{"d":"2010-02-02","v":5.57},{"d":"2010-02-15","v":5.45},{"d":"2010-03-03","v":5.36},{"d":"2010-03-16","v":5.52},{"d":"2010-03-30","v":5.46},{"d":"2010-04-13","v":5.52},{"d":"2010-04-26","v":5.6},{"d":"2010-05-09","v":5.64},{"d":"2010-05-23","v":5.69},{"d":"2010-06-05","v":5.78},{"d":"2010-06-19","v":5.81},{"d":"2010-06-29","v":5.88},{"d":"2010-07-10","v":5.81},{"d":"2010-07-22","v":5.76},{"d":"2010-08-06","v":5.69},{"d":"2010-08-19","v":5.57},{"d":"2010-09-02","v":5.46},{"d":"2010-09-10","v":5.38},{"d":"2010-09-20","v":5.52},{"d":"2010-10-04","v":5.58},{"d":"2010-10-17","v":5.64},{"d":"2010-10-30","v":5.81},{"d":"2010-11-13","v":5.64},{"d":"2010-11-26","v":5.63},{"d":"2010-12-09","v":5.58},{"d":"2010-12-23","v":5.76},{"d":"2011-01-06","v":5.69},{"d":"2011-01-19","v":5.6},{"d":"2011-02-02","v":5.54},{"d":"2011-02-15","v":5.48},{"d":"2011-02-28","v":5.57},{"d":"2011-03-06","v":5.51},{"d":"2011-03-11","v":4.4},{"d":"2011-03-16","v":5.6},{"d":"2011-03-25","v":5.72},{"d":"2011-04-07","v":5.82},{"d":"2011-04-21","v":5.88},{"d":"2011-04-26","v":5.72},{"d":"2011-05-09","v":5.76},{"d":"2011-05-22","v":5.75},{"d":"2011-05-31","v":5.78},{"d":"2011-06-02","v":5.52},{"d":"2011-06-05","v":5.78},{"d":"2011-06-21","v":5.72},{"d":"2011-07-09","v":5.76},{"d":"2011-07-28","v":5.78},{"d":"2011-08-11","v":5.82},{"d":"2011-08-24","v":5.81},{"d":"2011-09-09","v":5.76},{"d":"2011-09-17","v":5.69},{"d":"2011-09-23","v":5.76},{"d":"2011-10-06","v":5.72},{"d":"2011-10-25","v":5.7},{"d":"2011-11-12","v":5.64},{"d":"2011-11-29","v":5.57},{"d":"2011-12-09","v":5.48},{"d":"2011-12-17","v":5.63},{"d":"2011-12-31","v":5.52},{"d":"2012-01-13","v":5.48},{"d":"2012-02-01","v":5.45},{"d":"2012-02-17","v":5.4},{"d":"2012-03-01","v":5.33},{"d":"2012-03-14","v":5.45},{"d":"2012-03-27","v":5.52},{"d":"2012-04-05","v":5.58},{"d":"2012-04-10","v":5.45},{"d":"2012-04-21","v":5.28},{"d":"2012-04-24","v":5.16},{"d":"2012-05-03","v":5.4},{"d":"2012-05-06","v":5.51},{"d":"2012-05-17","v":5.36},{"d":"2012-05-30","v":5.27},{"d":"2012-06-13","v":5.28},{"d":"2012-06-26","v":5.33},{"d":"2012-07-04","v":5.36},{"d":"2012-07-12","v":5.27},{"d":"2012-07-25","v":5.16},{"d":"2012-08-08","v":5.12},{"d":"2012-08-21","v":5.08},{"d":"2012-09-03","v":5.02},{"d":"2012-09-17","v":4.94},{"d":"2012-09-27","v":4.88},{"d":"2012-10-05","v":5.08},{"d":"2012-10-13","v":5.0},{"d":"2012-10-27","v":5.02},{"d":"2012-11-09","v":5.0},{"d":"2012-11-23","v":4.98},{"d":"2012-12-06","v":4.98},{"d":"2012-12-19","v":4.96},{"d":"2013-01-02","v":4.92},{"d":"2013-01-13","v":4.84},{"d":"2013-01-26","v":4.78},{"d":"2013-02-09","v":4.72},{"d":"2013-02-22","v":4.67},{"d":"2013-03-07","v":4.6},{"d":"2013-03-21","v":4.54},{"d":"2013-04-01","v":4.46},{"d":"2013-04-10","v":4.55},{"d":"2013-04-18","v":4.67},{"d":"2013-05-01","v":4.76},{"d":"2013-05-14","v":4.79},{"d":"2013-05-27","v":4.76},{"d":"2013-06-10","v":4.72},{"d":"2013-06-23","v":4.76},{"d":"2013-07-06","v":4.67},{"d":"2013-07-17","v":4.72},{"d":"2013-07-25","v":4.84},{"d":"2013-08-02","v":4.96},{"d":"2013-08-16","v":5.1},{"d":"2013-08-26","v":5.08},{"d":"2013-09-09","v":4.96},{"d":"2013-09-22","v":4.96},{"d":"2013-10-06","v":4.79},{"d":"2013-10-19","v":4.76},{"d":"2013-10-27","v":4.92},{"d":"2013-11-10","v":4.84},{"d":"2013-11-23","v":4.76},{"d":"2013-12-06","v":4.67},{"d":"2013-12-20","v":4.6},{"d":"2013-12-28","v":4.76},{"d":"2014-01-10","v":4.72},{"d":"2014-01-23","v":4.64},{"d":"2014-02-06","v":4.6},{"d":"2014-02-20","v":4.55},{"d":"2014-03-02","v":4.64},{"d":"2014-03-08","v":4.76},{"d":"2014-03-22","v":4.79},{"d":"2014-04-04","v":4.84},{"d":"2014-04-17","v":4.79},{"d":"2014-04-30","v":4.88},{"d":"2014-05-14","v":4.79},{"d":"2014-05-27","v":4.76},{"d":"2014-06-04","v":4.67},{"d":"2014-06-15","v":4.84},{"d":"2014-06-28","v":5.0},{"d":"2014-07-11","v":5.21},{"d":"2014-07-25","v":5.12},{"d":"2014-08-07","v":5.0},{"d":"2014-08-21","v":5.0},{"d":"2014-09-03","v":4.92},{"d":"2014-09-17","v":4.88},{"d":"2014-09-30","v":4.79},{"d":"2014-10-13","v":4.79},{"d":"2014-10-26","v":4.84},{"d":"2014-11-09","v":4.79},{"d":"2014-11-23","v":4.76},{"d":"2014-12-08","v":4.72},{"d":"2014-12-22","v":4.67},{"d":"2015-01-04","v":4.79},{"d":"2015-01-17","v":4.6},{"d":"2015-01-31","v":4.52},{"d":"2015-02-19","v":4.55},{"d":"2015-03-07","v":4.64},{"d":"2015-03-23","v":4.6},{"d":"2015-04-12","v":4.6},{"d":"2015-04-30","v":4.67},{"d":"2015-05-16","v":4.76},{"d":"2015-06-04","v":4.76},{"d":"2015-06-17","v":4.67},{"d":"2015-06-30","v":4.64},{"d":"2015-07-14","v":4.6},{"d":"2015-07-27","v":4.6},{"d":"2015-08-10","v":4.6},{"d":"2015-08-18","v":4.84},{"d":"2015-09-01","v":4.76},{"d":"2015-09-14","v":4.88},{"d":"2015-09-27","v":4.84},{"d":"2015-10-16","v":4.72},{"d":"2015-11-03","v":4.67},{"d":"2015-11-20","v":4.6},{"d":"2015-12-08","v":4.67},{"d":"2015-12-27","v":4.64},{"d":"2016-01-12","v":4.6},{"d":"2016-01-31","v":4.6},{"d":"2016-02-19","v":4.52},{"d":"2016-03-05","v":4.43},{"d":"2016-03-24","v":4.36},{"d":"2016-04-06","v":4.31},{"d":"2016-04-19","v":4.48},{"d":"2016-05-03","v":4.55},{"d":"2016-05-16","v":4.52},{"d":"2016-05-29","v":4.48},{"d":"2016-06-12","v":4.43},{"d":"2016-06-25","v":4.52},{"d":"2016-07-08","v":4.55},{"d":"2016-07-27","v":4.52},{"d":"2016-08-12","v":4.64},{"d":"2016-08-31","v":4.72},{"d":"2016-09-18","v":4.76},{"d":"2016-10-05","v":4.67},{"d":"2016-10-24","v":4.6},{"d":"2016-11-11","v":4.55},{"d":"2016-11-27","v":4.6},{"d":"2016-12-16","v":4.55},{"d":"2017-01-04","v":4.52},{"d":"2017-01-20","v":4.48},{"d":"2017-02-08","v":4.43},{"d":"2017-02-27","v":4.36},{"d":"2017-03-14","v":4.4},{"d":"2017-03-31","v":4.37}],
"loc4":[{"d":"2008-01-01","v":4.0},{"d":"2008-01-09","v":4.1},{"d":"2008-01-22","v":4.11},{"d":"2008-02-05","v":4.1},{"d":"2008-02-19","v":4.12},{"d":"2008-03-01","v":4.16},{"d":"2008-03-07","v":3.83},{"d":"2008-03-20","v":3.82},{"d":"2008-03-28","v":3.83},{"d":"2008-04-03","v":4.16},{"d":"2008-04-06","v":3.83},{"d":"2008-04-16","v":3.83},{"d":"2008-04-19","v":4.4},{"d":"2008-04-24","v":3.83},{"d":"2008-04-30","v":4.48},{"d":"2008-05-02","v":4.52},{"d":"2008-05-15","v":4.55},{"d":"2008-05-29","v":4.6},{"d":"2008-06-03","v":4.07},{"d":"2008-06-09","v":4.68},{"d":"2008-06-17","v":4.58},{"d":"2008-06-25","v":4.6},{"d":"2008-06-30","v":3.95},{"d":"2008-07-05","v":4.6},{"d":"2008-07-13","v":3.83},{"d":"2008-07-18","v":4.7},{"d":"2008-07-26","v":4.64},{"d":"2008-08-04","v":4.6},{"d":"2008-08-09","v":4.4},{"d":"2008-08-14","v":4.6},{"d":"2008-08-17","v":3.95},{"d":"2008-08-22","v":4.55},{"d":"2008-08-28","v":3.95},{"d":"2008-09-05","v":3.95},{"d":"2008-09-10","v":4.12},{"d":"2008-09-16","v":3.95},{"d":"2008-12-01","v":null},{"d":"2009-03-17","v":3.67},{"d":"2009-03-22","v":4.0},{"d":"2009-03-31","v":4.07},{"d":"2009-04-05","v":3.83},{"d":"2009-04-13","v":4.0},{"d":"2009-05-15","v":null},{"d":"2009-06-11","v":5.21},{"d":"2009-06-19","v":4.19},{"d":"2009-06-24","v":5.21},{"d":"2009-07-02","v":4.07},{"d":"2009-07-13","v":4.0},{"d":"2009-07-15","v":5.16},{"d":"2009-07-20","v":4.19},{"d":"2009-07-26","v":5.21},{"d":"2009-08-09","v":5.48},{"d":"2009-08-11","v":4.19},{"d":"2009-08-17","v":5.16},{"d":"2009-08-24","v":5.12},{"d":"2009-08-30","v":4.12},{"d":"2009-09-07","v":4.07},{"d":"2009-09-18","v":4.0},{"d":"2009-09-26","v":3.95},{"d":"2009-10-09","v":4.24},{"d":"2009-10-17","v":3.95},{"d":"2009-10-28","v":4.31},{"d":"2009-11-05","v":4.0},{"d":"2009-11-13","v":4.28},{"d":"2009-11-24","v":4.0},{"d":"2009-12-07","v":4.19},{"d":"2009-12-15","v":4.0},{"d":"2010-01-03","v":4.0},{"d":"2010-01-16","v":3.95},{"d":"2010-01-30","v":3.94},{"d":"2010-02-13","v":3.92},{"d":"2010-02-26","v":3.79},{"d":"2010-03-03","v":3.47},{"d":"2010-03-11","v":3.4},{"d":"2010-03-22","v":3.23},{"d":"2010-04-05","v":3.19},{"d":"2010-04-13","v":3.35},{"d":"2010-04-21","v":3.16},{"d":"2010-04-24","v":5.0},{"d":"2010-05-01","v":5.04},{"d":"2010-05-15","v":5.0},{"d":"2010-05-23","v":3.67},{"d":"2010-05-28","v":5.04},{"d":"2010-06-10","v":5.03},{"d":"2010-06-13","v":4.0},{"d":"2010-06-19","v":5.04},{"d":"2010-06-26","v":4.0},{"d":"2010-07-01","v":5.16},{"d":"2010-07-10","v":5.03},{"d":"2010-07-20","v":5.04},{"d":"2010-07-22","v":4.0},{"d":"2010-07-28","v":5.0},{"d":"2010-08-16","v":4.98},{"d":"2010-08-24","v":4.96},{"d":"2010-08-29","v":3.43},{"d":"2010-09-07","v":3.4},{"d":"2010-09-20","v":3.95},{"d":"2010-09-28","v":3.43},{"d":"2010-10-12","v":3.47},{"d":"2010-10-22","v":3.28},{"d":"2010-11-05","v":3.23},{"d":"2010-11-18","v":3.19},{"d":"2010-11-26","v":3.28},{"d":"2010-12-04","v":3.52},{"d":"2010-12-15","v":3.31},{"d":"2010-12-20","v":4.4},{"d":"2010-12-25","v":3.47},{"d":"2011-01-06","v":3.31},{"d":"2011-01-24","v":3.19},{"d":"2011-02-10","v":3.07},{"d":"2011-02-23","v":2.91},{"d":"2011-03-06","v":2.83},{"d":"2011-03-19","v":2.79},{"d":"2011-03-30","v":2.75},{"d":"2011-04-07","v":2.99},{"d":"2011-04-16","v":2.83},{"d":"2011-04-26","v":4.6},{"d":"2011-05-09","v":4.8},{"d":"2011-05-12","v":4.64},{"d":"2011-05-25","v":4.76},{"d":"2011-06-02","v":2.87},{"d":"2011-06-05","v":4.72},{"d":"2011-06-18","v":4.68},{"d":"2011-06-26","v":4.88},{"d":"2011-07-01","v":2.91},{"d":"2011-07-04","v":4.68},{"d":"2011-07-09","v":2.87},{"d":"2011-07-17","v":4.72},{"d":"2011-07-28","v":2.95},{"d":"2011-07-31","v":4.68},{"d":"2011-08-11","v":4.64},{"d":"2011-08-19","v":4.72},{"d":"2011-08-24","v":2.91},{"d":"2011-09-02","v":2.83},{"d":"2011-09-15","v":2.79},{"d":"2011-09-23","v":6.39},{"d":"2011-09-28","v":2.91},{"d":"2011-10-06","v":3.23},{"d":"2011-10-17","v":2.99},{"d":"2011-10-30","v":2.95},{"d":"2011-11-12","v":2.91},{"d":"2011-11-26","v":2.87},{"d":"2011-12-04","v":3.23},{"d":"2011-12-12","v":2.91},{"d":"2011-12-31","v":2.91},{"d":"2012-01-18","v":2.87},{"d":"2012-02-03","v":2.89},{"d":"2012-02-14","v":2.99},{"d":"2012-02-22","v":2.91},{"d":"2012-03-06","v":3.28},{"d":"2012-03-14","v":2.91},{"d":"2012-03-24","v":2.87},{"d":"2012-04-08","v":2.83},{"d":"2012-04-21","v":2.83},{"d":"2012-04-24","v":4.64},{"d":"2012-04-29","v":4.68},{"d":"2012-05-03","v":3.07},{"d":"2012-05-06","v":4.64},{"d":"2012-05-17","v":4.72},{"d":"2012-05-30","v":4.76},{"d":"2012-06-07","v":4.92},{"d":"2012-06-15","v":4.72},{"d":"2012-06-26","v":2.99},{"d":"2012-06-29","v":4.92},{"d":"2012-07-09","v":4.88},{"d":"2012-07-12","v":2.91},{"d":"2012-07-17","v":4.68},{"d":"2012-07-25","v":4.72},{"d":"2012-08-08","v":4.76},{"d":"2012-08-21","v":4.72},{"d":"2012-09-01","v":4.76},{"d":"2012-09-03","v":2.91},{"d":"2012-09-14","v":2.87},{"d":"2012-09-27","v":3.19},{"d":"2012-10-05","v":2.83},{"d":"2012-10-19","v":2.79},{"d":"2012-11-02","v":2.79},{"d":"2012-11-20","v":2.83},{"d":"2012-12-06","v":2.79},{"d":"2012-12-25","v":2.81},{"d":"2013-01-02","v":2.87},{"d":"2013-01-21","v":2.83},{"d":"2013-02-09","v":2.85},{"d":"2013-02-25","v":2.83},{"d":"2013-03-14","v":2.83},{"d":"2013-04-01","v":2.81},{"d":"2013-04-10","v":3.04},{"d":"2013-04-15","v":2.83},{"d":"2013-04-21","v":4.64},{"d":"2013-04-28","v":4.64},{"d":"2013-05-11","v":4.7},{"d":"2013-05-25","v":4.76},{"d":"2013-06-07","v":4.74},{"d":"2013-06-20","v":4.76},{"d":"2013-06-21","v":2.99},{"d":"2013-06-26","v":4.76},{"d":"2013-07-03","v":4.72},{"d":"2013-07-06","v":3.55},{"d":"2013-07-11","v":2.97},{"d":"2013-07-19","v":3.67},{"d":"2013-07-30","v":2.99},{"d":"2013-08-08","v":3.4},{"d":"2013-08-16","v":2.87},{"d":"2013-08-21","v":4.72},{"d":"2013-08-26","v":4.72},{"d":"2013-08-29","v":2.87},{"d":"2013-09-09","v":3.31},{"d":"2013-09-17","v":2.91},{"d":"2013-09-24","v":3.47},{"d":"2013-10-06","v":2.91},{"d":"2013-10-13","v":2.83},{"d":"2013-10-21","v":3.47},{"d":"2013-11-02","v":2.87},{"d":"2013-11-15","v":2.87},{"d":"2013-11-28","v":2.87},{"d":"2013-12-12","v":2.83},{"d":"2013-12-25","v":3.35},{"d":"2014-01-02","v":2.87},{"d":"2014-01-15","v":2.83},{"d":"2014-01-28","v":2.83},{"d":"2014-02-17","v":2.83},{"d":"2014-03-02","v":3.04},{"d":"2014-03-14","v":2.99},{"d":"2014-03-22","v":3.16},{"d":"2014-03-30","v":3.23},{"d":"2014-04-10","v":3.07},{"d":"2014-04-17","v":2.87},{"d":"2014-04-22","v":4.68},{"d":"2014-04-30","v":4.76},{"d":"2014-05-14","v":4.76},{"d":"2014-05-22","v":3.04},{"d":"2014-05-27","v":4.8},{"d":"2014-06-04","v":4.76},{"d":"2014-06-10","v":3.67},{"d":"2014-06-15","v":2.99},{"d":"2014-06-23","v":4.8},{"d":"2014-06-30","v":4.8},{"d":"2014-07-06","v":3.07},{"d":"2014-07-14","v":3.19},{"d":"2014-07-25","v":2.99},{"d":"2014-08-07","v":2.95},{"d":"2014-08-21","v":2.91},{"d":"2014-09-03","v":2.99},{"d":"2014-09-11","v":4.04},{"d":"2014-09-17","v":2.99},{"d":"2014-09-25","v":2.87},{"d":"2014-10-08","v":3.47},{"d":"2014-10-16","v":2.91},{"d":"2014-11-04","v":2.87},{"d":"2014-11-23","v":2.91},{"d":"2014-12-08","v":2.87},{"d":"2014-12-27","v":2.87},{"d":"2015-01-15","v":2.91},{"d":"2015-01-31","v":2.87},{"d":"2015-02-19","v":2.91},{"d":"2015-03-07","v":3.16},{"d":"2015-03-23","v":2.99},{"d":"2015-04-06","v":2.95},{"d":"2015-04-20","v":2.99},{"d":"2015-04-25","v":4.72},{"d":"2015-05-08","v":4.84},{"d":"2015-05-27","v":4.88},{"d":"2015-06-12","v":4.84},{"d":"2015-06-23","v":4.92},{"d":"2015-06-30","v":2.91},{"d":"2015-07-09","v":2.87},{"d":"2015-07-14","v":4.8},{"d":"2015-07-27","v":4.88},{"d":"2015-08-10","v":4.8},{"d":"2015-08-15","v":3.47},{"d":"2015-08-23","v":2.99},{"d":"2015-09-06","v":2.95},{"d":"2015-09-11","v":3.95},{"d":"2015-09-14","v":6.21},{"d":"2015-09-16","v":2.99},{"d":"2015-09-25","v":3.31},{"d":"2015-10-08","v":2.91},{"d":"2015-10-24","v":2.87},{"d":"2015-11-12","v":2.91},{"d":"2015-11-30","v":3.23},{"d":"2015-12-08","v":2.91},{"d":"2015-12-27","v":2.87},{"d":"2016-01-12","v":2.91},{"d":"2016-01-23","v":3.11},{"d":"2016-02-05","v":2.91},{"d":"2016-02-22","v":2.87},{"d":"2016-03-10","v":2.87},{"d":"2016-03-29","v":2.91},{"d":"2016-04-11","v":2.99},{"d":"2016-04-14","v":4.76},{"d":"2016-04-27","v":4.96},{"d":"2016-05-16","v":5.03},{"d":"2016-05-29","v":5.0},{"d":"2016-06-06","v":4.92},{"d":"2016-06-17","v":5.04},{"d":"2016-06-25","v":3.07},{"d":"2016-07-08","v":2.99},{"d":"2016-07-14","v":4.84},{"d":"2016-07-27","v":4.92},{"d":"2016-08-09","v":4.96},{"d":"2016-08-15","v":5.04},{"d":"2016-08-17","v":3.47},{"d":"2016-08-25","v":3.4},{"d":"2016-09-05","v":3.55},{"d":"2016-09-13","v":3.95},{"d":"2016-09-21","v":3.55},{"d":"2016-10-02","v":3.16},{"d":"2016-10-10","v":2.95},{"d":"2016-10-24","v":2.87},{"d":"2016-11-11","v":2.87},{"d":"2016-11-27","v":2.83},{"d":"2016-12-16","v":2.83},{"d":"2017-01-04","v":2.83},{"d":"2017-01-20","v":2.87},{"d":"2017-02-08","v":2.83},{"d":"2017-02-16","v":2.75},{"d":"2017-02-27","v":2.99},{"d":"2017-03-06","v":2.83},{"d":"2017-03-14","v":3.04},{"d":"2017-03-24","v":2.91},{"d":"2017-03-31","v":2.99}],
"gate":[{"d":"2010-04-22","v":0.25},{"d":"2010-04-26","v":1},{"d":"2010-05-21","v":0.25},{"d":"2010-05-24","v":1},{"d":"2010-06-15","v":0.25},{"d":"2010-06-18","v":1},{"d":"2010-07-01","v":0.25},{"d":"2010-07-04","v":1},{"d":"2010-07-17","v":0.25},{"d":"2010-07-20","v":1},{"d":"2010-08-29","v":0.25},{"d":"2011-04-24","v":1},{"d":"2011-05-08","v":0.25},{"d":"2011-05-11","v":1},{"d":"2011-05-24","v":0.25},{"d":"2011-05-27","v":1},{"d":"2011-06-05","v":0.25},{"d":"2011-06-07","v":1},{"d":"2011-06-15","v":0.25},{"d":"2011-06-17","v":1},{"d":"2011-06-26","v":0.25},{"d":"2011-06-28","v":1},{"d":"2011-07-04","v":0.25},{"d":"2011-07-06","v":1},{"d":"2011-07-15","v":0.25},{"d":"2011-07-17","v":1},{"d":"2011-07-28","v":0.25},{"d":"2011-07-30","v":1},{"d":"2011-08-12","v":0.25},{"d":"2011-08-15","v":1},{"d":"2011-08-24","v":0.25},{"d":"2012-04-24","v":1},{"d":"2012-05-03","v":0.25},{"d":"2012-05-06","v":1},{"d":"2012-06-18","v":0.25},{"d":"2012-06-29","v":1},{"d":"2012-07-04","v":0.25},{"d":"2012-07-17","v":1},{"d":"2012-09-01","v":0.25},{"d":"2013-04-18","v":1},{"d":"2013-06-18","v":0.25},{"d":"2013-06-23","v":1},{"d":"2013-07-06","v":0.25},{"d":"2013-08-08","v":1},{"d":"2013-08-24","v":0.25},{"d":"2014-04-26","v":1},{"d":"2014-05-22","v":0.25},{"d":"2014-05-27","v":1},{"d":"2014-06-07","v":0.25},{"d":"2014-06-15","v":1},{"d":"2014-06-29","v":0.25},{"d":"2015-04-25","v":1},{"d":"2015-06-25","v":0.25},{"d":"2015-07-09","v":1},{"d":"2015-08-10","v":0.25},{"d":"2016-04-14","v":1},{"d":"2016-06-25","v":0.25},{"d":"2016-07-08","v":1},{"d":"2016-08-12","v":0.25},{"d":"2017-03-31","v":0.25}]
},
"layer":[
{"data":{"name":"labels"},"mark":{"type":"point","shape":"M-1,-0.3L1,-0.3L1,0.3L-1,0.3Z","filled":true,"color":"white","opacity":1,"size":7744},
 "encoding":{
  "x":{"field":"d","type":"temporal","title":"年月日","scale":{"type":"utc","domain":[{"year":2008,"month":1,"date":1,"utc":true},{"year":2017,"month":4,"date":1,"utc":true}]},"axis":{"title":"年月日","tickCount":{"interval":"month","step":3},"gridDash":[4,3],"titleFontSize":23,"titleX":634,"titleY":27,"titleBaseline":"middle","titleAlign":"center"}},
  "y":{"field":"v","type":"quantitative","title":"水位標高(EL.m)","scale":{"domain":[0,13],"nice":false,"zero":false},"axis":{"title":"水位標高(EL.m)","values":[0,0.5,1,1.5,2,2.5,3,3.5,4,4.5,5,5.5,6,6.5,7,7.5,8,8.5,9,9.5,10,10.5,11,11.5,12,12.5,13],"gridDash":{"condition":{"test":"datum.value % 1 !== 0","value":[5,3]},"value":[]},"titleFontSize":22,"titleX":-36,"titleY":539,"titleAngle":-90,"titleBaseline":"middle","titleAlign":"center"}}}},
{"data":{"name":"gatelabels"},"mark":{"type":"point","shape":"M-1,-0.366L1,-0.366L1,0.366L-1,0.366Z","filled":true,"fill":"white","stroke":"#FF0000","strokeWidth":1.5,"opacity":1,"size":10201},
 "encoding":{"x":{"field":"d","type":"temporal","title":"年月日"},"y":{"field":"v","type":"quantitative","title":"水位標高(EL.m)"}}},
{"data":{"name":"h1719"},"mark":{"type":"line","color":"#99CCFF","strokeWidth":1.5,"invalid":"break-paths-show-domains"},"encoding":{"x":{"field":"d","type":"temporal","title":"年月日"},"y":{"field":"v","type":"quantitative","title":"水位標高(EL.m)"}}},
{"data":{"name":"h163"},"mark":{"type":"line","color":"#FF8080","strokeWidth":1.5,"invalid":"break-paths-show-domains"},"encoding":{"x":{"field":"d","type":"temporal","title":"年月日"},"y":{"field":"v","type":"quantitative","title":"水位標高(EL.m)"}}},
{"data":{"name":"h1611"},"mark":{"type":"line","color":"#CC9900","strokeWidth":1.8,"invalid":"break-paths-show-domains"},"encoding":{"x":{"field":"d","type":"temporal","title":"年月日"},"y":{"field":"v","type":"quantitative","title":"水位標高(EL.m)"}}},
{"data":{"name":"h1715"},"mark":{"type":"line","color":"#0B3300","strokeWidth":1.5,"invalid":"break-paths-show-domains"},"encoding":{"x":{"field":"d","type":"temporal","title":"年月日"},"y":{"field":"v","type":"quantitative","title":"水位標高(EL.m)"}}},
{"data":{"name":"h263a"},"mark":{"type":"line","color":"#CC0000","strokeWidth":1.5,"invalid":"break-paths-show-domains"},"encoding":{"x":{"field":"d","type":"temporal","title":"年月日"},"y":{"field":"v","type":"quantitative","title":"水位標高(EL.m)"}}},
{"data":{"name":"loc1a"},"mark":{"type":"line","color":"#6600CC","strokeWidth":1.8,"invalid":"break-paths-show-domains"},"encoding":{"x":{"field":"d","type":"temporal","title":"年月日"},"y":{"field":"v","type":"quantitative","title":"水位標高(EL.m)"}}},
{"data":{"name":"loc4"},"mark":{"type":"line","color":"#FFCC00","strokeWidth":1.5,"invalid":"break-paths-show-domains"},"encoding":{"x":{"field":"d","type":"temporal","title":"年月日"},"y":{"field":"v","type":"quantitative","title":"水位標高(EL.m)"}}},
{"data":{"name":"gate"},"mark":{"type":"line","color":"#FF0000","strokeWidth":1.5,"interpolate":"step-after"},"encoding":{"x":{"field":"d","type":"temporal","title":"年月日"},"y":{"field":"v","type":"quantitative","title":"水位標高(EL.m)"}}},
{"data":{"name":"labels"},"mark":{"type":"text","font":"Liberation Sans","fontSize":23.5,"align":"center","baseline":"middle"},
 "encoding":{"x":{"field":"d","type":"temporal","title":"年月日"},"y":{"field":"v","type":"quantitative","title":"水位標高(EL.m)"},"text":{"field":"s"},
  "color":{"field":"s","type":"nominal","legend":null,"scale":{"domain":["H17-19","H16-11","H16-3","H17-15","Loc.1a","Loc.4","H26-3a"],"range":["#99CCFF","#CC9900","#FF8080","#0B3300","#6600CC","#FFCC00","#CC0000"]}}}},
{"data":{"name":"gatelabels"},"mark":{"type":"text","fontSize":22.5,"align":"center","baseline":"middle","color":"#000"},
 "encoding":{"x":{"field":"d","type":"temporal","title":"年月日"},"y":{"field":"v","type":"quantitative","title":"水位標高(EL.m)"},"text":{"field":"t"}}},
{"data":{"values":[{}]},"mark":{"type":"text","text":"対策工事","fontSize":18.5,"align":"center","baseline":"middle","color":"#000"},
 "encoding":{"x":{"datum":{"year":2008,"month":9,"date":24,"utc":true},"type":"temporal"},"y":{"datum":9.64,"type":"quantitative"}}},
{"data":{"values":[{}]},"mark":{"type":"text","text":"H20.3.1～H21.3.19","fontSize":17,"align":"center","baseline":"middle","color":"#000"},
 "encoding":{"x":{"datum":{"year":2008,"month":9,"date":24,"utc":true},"type":"temporal"},"y":{"datum":9.25,"type":"quantitative"}}},
{"data":{"values":[{}]},"mark":{"type":"rule","color":"#000","strokeWidth":4},
 "encoding":{"x":{"datum":{"year":2008,"month":2,"date":12,"utc":true},"type":"temporal"},"x2":{"datum":{"year":2009,"month":3,"date":20,"utc":true}},"y":{"datum":9.0,"type":"quantitative"}}},
{"data":{"values":[{}]},"mark":{"type":"point","shape":"triangle-left","filled":true,"color":"#000","opacity":1,"size":200},
 "encoding":{"x":{"datum":{"year":2008,"month":2,"date":9,"utc":true},"type":"temporal"},"y":{"datum":9.0,"type":"quantitative"}}},
{"data":{"values":[{}]},"mark":{"type":"point","shape":"triangle-right","filled":true,"color":"#000","opacity":1,"size":200},
 "encoding":{"x":{"datum":{"year":2009,"month":3,"date":23,"utc":true},"type":"temporal"},"y":{"datum":9.0,"type":"quantitative"}}},
{"data":{"values":[{"d":"2011-03-11","v":9.0,"d2":"2011-05-04","v2":9.72},{"d":"2011-05-04","v":9.72,"d2":"2011-05-25","v2":9.72},{"d":"2011-04-07","v":9.0,"d2":"2011-05-04","v2":8.71},{"d":"2011-05-04","v":8.71,"d2":"2011-05-30","v2":8.71}]},
 "mark":{"type":"rule","color":"#000","strokeWidth":1.2},
 "encoding":{"x":{"field":"d","type":"temporal","title":"年月日"},"y":{"field":"v","type":"quantitative","title":"水位標高(EL.m)"},"x2":{"field":"d2"},"y2":{"field":"v2"}}},
{"data":{"values":[{"d":"2011-03-11","v":9.0},{"d":"2011-04-07","v":9.0}]},"mark":{"type":"point","shape":"circle","filled":true,"color":"#000","opacity":1,"size":14},
 "encoding":{"x":{"field":"d","type":"temporal","title":"年月日"},"y":{"field":"v","type":"quantitative","title":"水位標高(EL.m)"}}},
{"data":{"values":[{}]},"mark":{"type":"text","text":"H23.3.11 東日本大震災発生","fontSize":17,"align":"left","baseline":"middle","color":"#000"},
 "encoding":{"x":{"datum":{"year":2011,"month":6,"date":19,"utc":true},"type":"temporal"},"y":{"datum":9.87,"type":"quantitative"}}},
{"data":{"values":[{}]},"mark":{"type":"text","text":"震度:5強","fontSize":17,"align":"center","baseline":"middle","color":"#000"},
 "encoding":{"x":{"datum":{"year":2012,"month":2,"date":27,"utc":true},"type":"temporal"},"y":{"datum":9.53,"type":"quantitative"}}},
{"data":{"values":[{}]},"mark":{"type":"text","text":"H23.4.7 余震:震度5弱","fontSize":17.5,"align":"left","baseline":"middle","color":"#000"},
 "encoding":{"x":{"datum":{"year":2011,"month":6,"date":21,"utc":true},"type":"temporal"},"y":{"datum":8.68,"type":"quantitative"}}},
{"data":{"values":[{}]},"mark":{"type":"rect","fill":"white","stroke":"#000","strokeWidth":1.5},
 "encoding":{"x":{"datum":{"year":2008,"month":9,"date":18,"utc":true},"type":"temporal"},"x2":{"datum":{"year":2016,"month":7,"date":27,"utc":true}},"y":{"datum":13.18,"type":"quantitative"},"y2":{"datum":12.58}}},
{"data":{"values":[{}]},"mark":{"type":"text","text":"南側測線(新～旧工区)の地下水・浸透水の水位図(H20.1.1～H29.3.31)","fontSize":34.5,"align":"center","baseline":"middle","color":"#000"},
 "encoding":{"x":{"datum":{"year":2012,"month":8,"date":21,"utc":true},"type":"temporal"},"y":{"datum":12.88,"type":"quantitative"}}}
]
}
